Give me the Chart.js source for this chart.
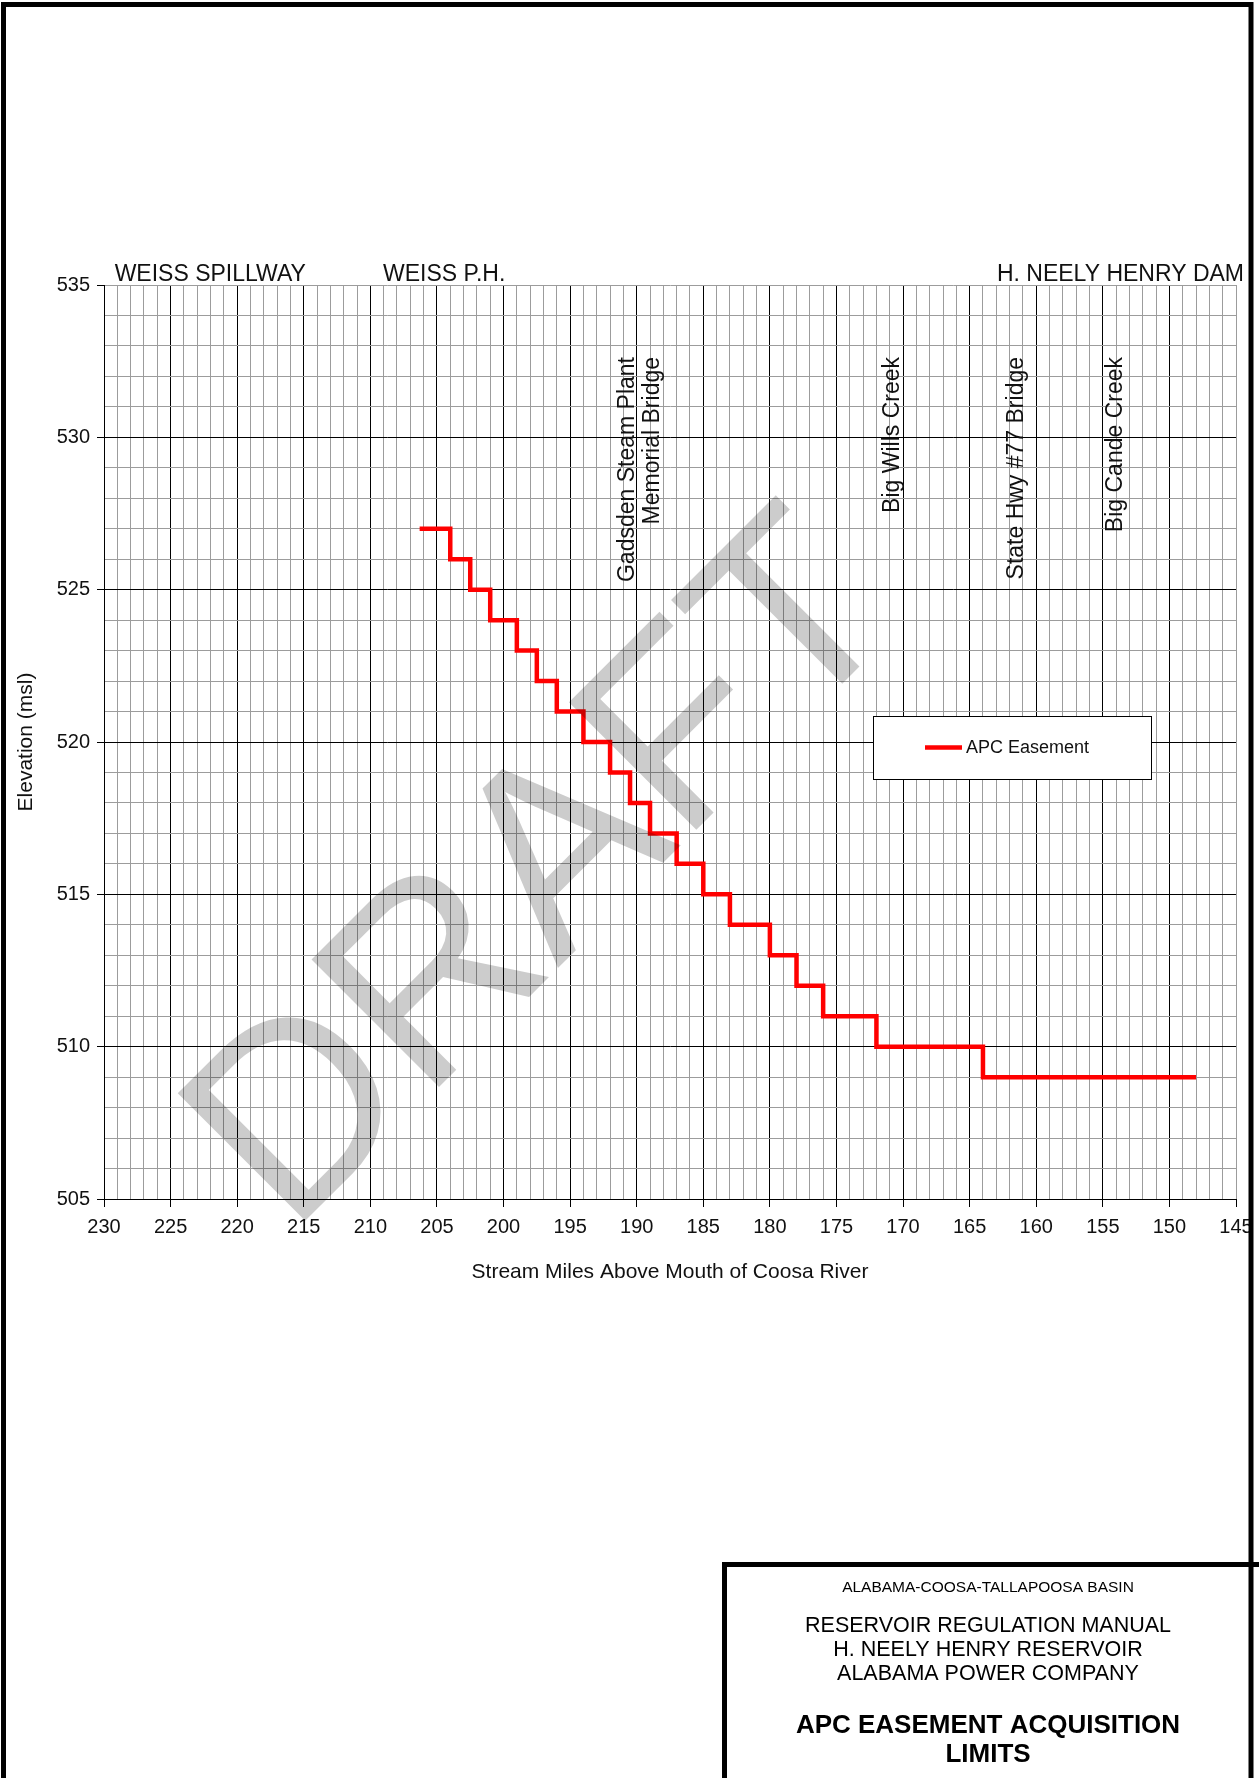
<!DOCTYPE html>
<html>
<head>
<meta charset="utf-8">
<title>APC Easement Acquisition Limits</title>
<script src="https://cdn.jsdelivr.net/npm/chart.js"></script>
<style>
body { margin: 0; background: #fff; }
#page { width: 1259px; height: 1778px; }
</style>
</head>
<body>
<div id="page"><canvas id="easement-graph" width="1259" height="1778"></canvas></div>
<script>
//step points: mile where the step happens and elevation after it
let miles = [206.3, 204, 202.5, 201, 199, 197.5, 196, 194, 192, 190.5, 189, 187, 185, 183, 180, 178, 176, 172, 164, 148];
let elevations = [527, 526, 525, 524, 523, 522, 521, 520, 519, 518, 517, 516, 515, 514, 513, 512, 511, 510, 509, 509];

//labelled ticks (grid also has a line every mile / every foot)
let mileTicks = [230, 225, 220, 215, 210, 205, 200, 195, 190, 185, 180, 175, 170, 165, 160, 155, 150, 145];
let elevationTicks = [505, 510, 515, 520, 525, 530, 535];

//names along the top of the plot
let topLabels = ["WEISS SPILLWAY", "WEISS P.H.", "H. NEELY HENRY DAM"];
let topLabelMiles = [229.2, 209.05, 144.4];

//landmarks written upright
let landmarkLabels = ["Gadsden Steam Plant", "Memorial Bridge", "Big Wills Creek", "State Hwy #77 Bridge", "Big Cande Creek"];
let landmarkMiles = [190.7, 188.8, 170.8, 161.5, 154.0];

//title block text
let titleLines = ["ALABAMA-COOSA-TALLAPOOSA BASIN", "RESERVOIR REGULATION MANUAL", "H. NEELY HENRY RESERVOIR", "ALABAMA POWER COMPANY", "APC EASEMENT ACQUISITION", "LIMITS"];

const FONT = "'Liberation Sans', Arial, Helvetica, sans-serif";
const MINOR = "#9c9c9c";

Chart.defaults.font.family = FONT;
Chart.defaults.color = "#111";

//one tick per unit between the first and last labelled tick
function everyUnit(list) {
	let lo = Math.min(...list);
	let hi = Math.max(...list);
	let t = [];
	for (let v = lo; v <= hi; v++) t.push({ value: v });
	return t;
}

let pagePlugin = {
	id: "page",
	beforeDraw(chart) {
		let ctx = chart.ctx;
		ctx.save();
		ctx.fillStyle = "#fff";
		ctx.fillRect(0, 0, chart.width, chart.height);
		ctx.restore();
	},
	afterDatasetsDraw(chart) {
		//legend box inside the plot
		let ctx = chart.ctx;
		let ds = chart.data.datasets[0];
		ctx.save();
		ctx.fillStyle = "#fff";
		ctx.fillRect(873, 716, 278, 63);
		ctx.strokeStyle = "#000";
		ctx.lineWidth = 1;
		ctx.strokeRect(873.5, 716.5, 278, 63);
		ctx.strokeStyle = ds.borderColor;
		ctx.lineWidth = ds.borderWidth;
		ctx.beginPath();
		ctx.moveTo(925, 747.5);
		ctx.lineTo(962, 747.5);
		ctx.stroke();
		ctx.fillStyle = "#111";
		ctx.font = "18px " + FONT;
		ctx.textBaseline = "middle";
		ctx.fillText(ds.label, 966, 748);
		ctx.restore();
	},
	afterDraw(chart) {
		let ctx = chart.ctx;
		let x = chart.scales.x;
		ctx.save();

		//top names
		ctx.fillStyle = "#111";
		ctx.font = "23px " + FONT;
		ctx.textBaseline = "alphabetic";
		topLabels.forEach((t, i) => {
			ctx.textAlign = i === topLabels.length - 1 ? "right" : "left";
			ctx.fillText(t, x.getPixelForValue(topLabelMiles[i]), 281);
		});

		//upright landmark names, ending near the top
		ctx.textAlign = "right";
		ctx.textBaseline = "middle";
		landmarkLabels.forEach((t, i) => {
			ctx.save();
			ctx.translate(x.getPixelForValue(landmarkMiles[i]), 357);
			ctx.rotate(-Math.PI / 2);
			ctx.fillText(t, 0, 0);
			ctx.restore();
		});

		//DRAFT watermark
		ctx.save();
		ctx.translate(290, 1236);
		ctx.rotate(-Math.PI / 4);
		ctx.font = "262px " + FONT;
		ctx.fillStyle = "rgba(0, 0, 0, 0.2)";
		ctx.textAlign = "left";
		ctx.textBaseline = "alphabetic";
		ctx.fillText("DRAFT", 0, 0);
		ctx.restore();

		//page frame
		ctx.strokeStyle = "#000";
		ctx.lineWidth = 5;
		ctx.strokeRect(3.5, 4.5, 1247.5, 1800);

		//title block
		ctx.beginPath();
		ctx.moveTo(724.5, 1800);
		ctx.lineTo(724.5, 1564.5);
		ctx.lineTo(1259, 1564.5);
		ctx.stroke();

		let cx = 988;
		let lineFonts = ["15.5px ", "21.5px ", "21.5px ", "21.5px ", "bold 26px ", "bold 26px "];
		let lineY = [1592, 1632, 1656, 1680, 1733, 1762];
		ctx.fillStyle = "#000";
		ctx.textAlign = "center";
		ctx.textBaseline = "alphabetic";
		titleLines.forEach((t, i) => {
			ctx.font = lineFonts[i] + FONT;
			ctx.fillText(t, cx, lineY[i]);
		});
		ctx.restore();
	},
};

let graphCTX = document.getElementById("easement-graph");
let easementChart = new Chart(graphCTX, {
	type: "line",
	data: {
		datasets: [
			{
				label: "APC Easement",
				data: miles.map((m, i) => ({ x: m, y: elevations[i] })),
				borderColor: "#ff0000",
				backgroundColor: "#ff0000",
				borderWidth: 4.5,
				stepped: "before",
				pointRadius: 0,
				fill: false,
				borderCapStyle: "butt",
				borderJoinStyle: "miter",
			},
		],
	},
	options: {
		responsive: false,
		animation: false,
		events: [],
		layout: {
			padding: { top: 285, right: 23, bottom: 493, left: 0 },
		},
		plugins: {
			legend: { display: false },
			tooltip: { enabled: false },
		},
		scales: {
			x: {
				type: "linear",
				reverse: true,
				min: Math.min(...mileTicks),
				max: Math.max(...mileTicks),
				afterBuildTicks: (s) => { s.ticks = everyUnit(mileTicks); },
				afterFit: (s) => { s.height = 86; },
				ticks: {
					autoSkip: false,
					maxRotation: 0,
					padding: 8,
					font: { size: 20 },
					color: "#111",
					callback: (v) => (mileTicks.includes(v) ? String(v) : ""),
				},
				grid: {
					lineWidth: 1,
					tickLength: 8,
					color: (c) => (c.tick.value % 5 === 0 && c.tick.value !== 145 ? "#000" : MINOR),
					tickColor: (c) => (c.tick.value % 5 === 0 ? "#000" : "rgba(0,0,0,0)"),
				},
				border: { color: "#000", width: 1 },
				title: {
					display: true,
					text: "Stream Miles Above Mouth of Coosa River",
					font: { size: 21 },
					color: "#111",
					padding: { top: 0, bottom: 0 },
				},
			},
			y: {
				type: "linear",
				min: Math.min(...elevationTicks),
				max: Math.max(...elevationTicks),
				afterBuildTicks: (s) => { s.ticks = everyUnit(elevationTicks); },
				afterFit: (s) => { s.width = 104; },
				ticks: {
					autoSkip: false,
					padding: 7,
					font: { size: 20 },
					color: "#111",
					callback: (v) => (elevationTicks.includes(v) ? String(v) : ""),
				},
				grid: {
					lineWidth: 1,
					tickLength: 7,
					color: (c) => (c.tick.value % 5 === 0 && c.tick.value !== 535 ? "#000" : MINOR),
					tickColor: (c) => (c.tick.value % 5 === 0 ? "#000" : "rgba(0,0,0,0)"),
				},
				border: { color: "#000", width: 1 },
				title: {
					display: true,
					text: "Elevation (msl)",
					font: { size: 21 },
					color: "#111",
					padding: { top: 14, bottom: 0 },
				},
			},
		},
	},
	plugins: [pagePlugin],
});
</script>
</body>
</html>
